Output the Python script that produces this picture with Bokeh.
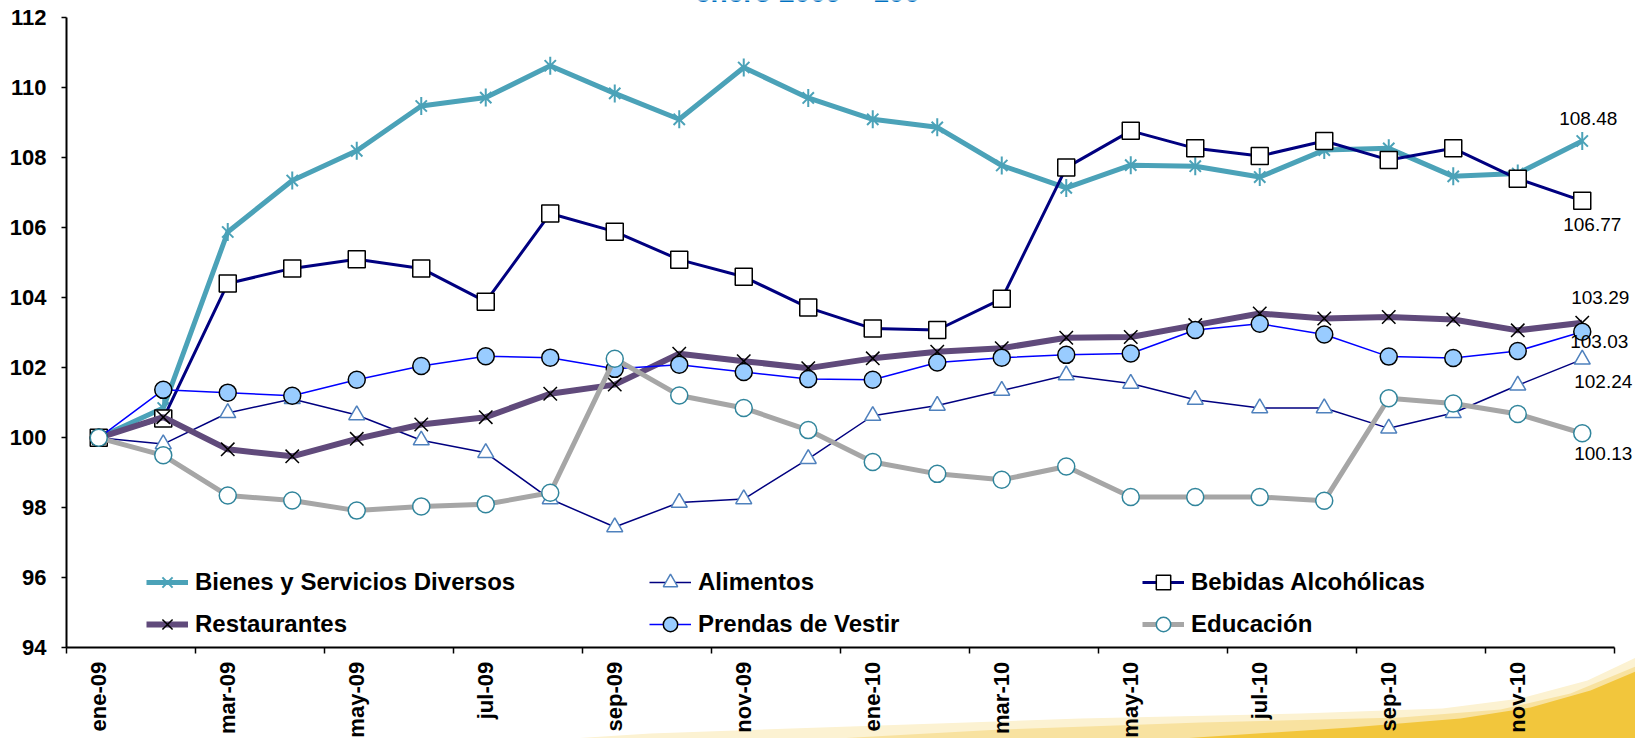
import math
from bokeh.plotting import figure
from bokeh.models import Range1d, FixedTicker, Legend, LegendItem, Label
from bokeh.embed import file_html
from bokeh.resources import INLINE

# ---------------- data ----------------
months = ["ene-09", "feb-09", "mar-09", "abr-09", "may-09", "jun-09", "jul-09", "ago-09",
          "sep-09", "oct-09", "nov-09", "dic-09", "ene-10", "feb-10", "mar-10", "abr-10",
          "may-10", "jun-10", "jul-10", "ago-10", "sep-10", "oct-10", "nov-10", "dic-10"]

bienes = [100.00, 100.85, 105.88, 107.35, 108.20, 109.48, 109.72, 110.63, 109.84, 109.10,
          110.58, 109.71, 109.10, 108.87, 107.78, 107.14, 107.79, 107.76, 107.45, 108.22,
          108.27, 107.47, 107.55, 108.48]
alimentos = [100.00, 99.82, 100.71, 101.11, 100.65, 99.93, 99.57, 98.25, 97.45, 98.15,
             98.25, 99.40, 100.63, 100.92, 101.35, 101.79, 101.55, 101.09, 100.85, 100.85,
             100.27, 100.71, 101.50, 102.24]
bebidas = [100.00, 100.55, 104.41, 104.84, 105.10, 104.84, 103.89, 106.41, 105.89, 105.09,
           104.60, 103.72, 103.12, 103.08, 103.97, 107.72, 108.77, 108.27, 108.05, 108.48,
           107.94, 108.27, 107.40, 106.77]
restaurantes = [100.00, 100.59, 99.67, 99.47, 99.97, 100.38, 100.59, 101.26, 101.52, 102.40,
                102.19, 101.99, 102.27, 102.46, 102.56, 102.86, 102.88, 103.22, 103.55, 103.41,
                103.45, 103.38, 103.07, 103.29]
prendas = [100.00, 101.37, 101.29, 101.20, 101.66, 102.05, 102.33, 102.29, 101.97, 102.09,
           101.88, 101.68, 101.66, 102.15, 102.29, 102.37, 102.41, 103.08, 103.26, 102.95,
           102.32, 102.28, 102.48, 103.03]
educacion = [100.00, 99.50, 98.35, 98.21, 97.92, 98.04, 98.10, 98.43, 102.26, 101.21,
             100.85, 100.22, 99.31, 98.97, 98.80, 99.18, 98.31, 98.31, 98.31, 98.20,
             101.13, 100.98, 100.68, 100.13]

y_ticks = [94, 96, 98, 100, 102, 104, 106, 108, 110, 112]
title_text = "enero 2009 = 100"

# ---------------- layout / styles ----------------
W, H = 1635, 738
PX_LEFT, PX_RIGHT, PX_TOP, PX_BOTTOM = 66, 1614, 17.3, 647.3
FONT = "Liberation Sans"
TEAL = "#4BA2B8"
NAVY = "#000080"
PURPLE = "#604A7B"
BLUE = "#0000FF"
GRAY = "#A6A6A6"

n = len(months)
xs = list(range(n))
y0, y1 = y_ticks[0], y_ticks[-1]
month_px = (PX_RIGHT - PX_LEFT) / n
unit_px = (PX_BOTTOM - PX_TOP) / (y1 - y0)
x_start = -0.5 - PX_LEFT / month_px
x_end = n - 0.5 + (W - PX_RIGHT) / month_px
y_start = y0 - (H - PX_BOTTOM) / unit_px
y_end = y1 + PX_TOP / unit_px

p = figure(width=W, height=H, output_backend="svg", toolbar_location=None,
           x_range=Range1d(x_start, x_end), y_range=Range1d(y_start, y_end),
           min_border=0, min_border_left=0, min_border_right=0,
           min_border_top=0, min_border_bottom=0)
p.grid.visible = False
p.outline_line_color = None
p.background_fill_color = "white"
p.border_fill_color = "white"


def cx(px):
    return x_start + px / month_px


def cy(py):
    return y_end - py / unit_px


# decorative yellow swoosh at the bottom right (pixel outline of the background art)
swoosh = [
    ("#FCF2D2", [540, 650, 850, 1080, 1300, 1442, 1520, 1587, 1640, 1640],
                [740, 733, 726, 718, 713, 708, 698, 680, 655, 740]),
    ("#F8E2A0", [800, 1000, 1200, 1400, 1500, 1570, 1640, 1640],
                [740, 729, 722, 717, 709, 693, 664, 740]),
    ("#F2C63C", [1150, 1350, 1460, 1530, 1590, 1640, 1640],
                [740, 727, 718, 707, 690, 669, 740]),
]
for col, sx, sy in swoosh:
    p.patch([cx(v) for v in sx], [cy(v) for v in sy], fill_color=col,
            line_color=None, level="underlay")

# (name, values, line style, list of marker styles, label offset)
series = [
    ("Bienes y Servicios Diversos", bienes,
     dict(line_color=TEAL, line_width=5),
     [dict(marker="x", size=16, line_color=TEAL, line_width=2),
      dict(marker="dash", size=18, angle=math.pi / 2, line_color=TEAL, line_width=2)], (6, 23)),
    ("Alimentos", alimentos,
     dict(line_color=NAVY, line_width=1.5),
     [dict(marker="triangle", size=16, fill_color="white", line_color="#4F81BD", line_width=1.5)], (21, -22)),
    ("Bebidas Alcohólicas", bebidas,
     dict(line_color=NAVY, line_width=3),
     [dict(marker="square", size=17, fill_color="white", line_color="black", line_width=1.5)], (10, -24)),
    ("Restaurantes", restaurantes,
     dict(line_color=PURPLE, line_width=6),
     [dict(marker="x", size=19, line_color="black", line_width=1.5)], (18, 25)),
    ("Prendas de Vestir", prendas,
     dict(line_color=BLUE, line_width=1.5),
     [dict(marker="circle", size=17, fill_color="#99CCFF", line_color="black", line_width=1.5)], (17, -10)),
    ("Educación", educacion,
     dict(line_color=GRAY, line_width=5),
     [dict(marker="circle", size=17, fill_color="white", line_color="#31859C", line_width=1.5)], (21, -20)),
]

items = {}
for name, vals, lstyle, mstyles, off in series:
    rs = [p.line(xs, vals, **lstyle)]
    for ms in mstyles:
        rs.append(p.scatter(xs, vals, **ms))
    items[name] = LegendItem(label=name, renderers=rs)
    p.add_layout(Label(x=xs[-1], y=vals[-1], text=f"{vals[-1]:.2f}",
                       x_offset=off[0], y_offset=off[1],
                       text_align="center", text_baseline="middle",
                       text_font=FONT, text_font_size="19px", text_color="black"))

columns = [
    (["Bienes y Servicios Diversos", "Restaurantes"], 146),
    (["Alimentos", "Prendas de Vestir"], 649),
    (["Bebidas Alcohólicas", "Educación"], 1142),
]
for names, lx in columns:
    lg = Legend(items=[items[k] for k in names], location=(lx, 96),
                orientation="vertical", border_line_color=None,
                background_fill_alpha=0, padding=0, margin=0, spacing=6,
                glyph_width=42, glyph_height=36, label_height=36, label_standoff=7,
                label_text_font=FONT, label_text_font_size="24px",
                label_text_font_style="bold", label_text_color="black")
    p.add_layout(lg, "center")

# axes (drawn at fixed data locations inside the full-canvas frame)
p.yaxis.fixed_location = -0.5
p.yaxis.bounds = (y0, y1)
p.yaxis.ticker = FixedTicker(ticks=y_ticks)
p.yaxis.major_tick_out = 5
p.yaxis.major_tick_in = 0
p.yaxis.minor_tick_line_color = None
p.yaxis.major_label_standoff = 15
p.yaxis.axis_line_width = 2
p.yaxis.major_tick_line_width = 1.5
p.yaxis.axis_line_color = "black"
p.yaxis.major_label_text_font = FONT
p.yaxis.major_label_text_font_size = "22px"
p.yaxis.major_label_text_font_style = "bold"
p.yaxis.major_label_text_color = "black"

p.xaxis.fixed_location = y0
p.xaxis.bounds = (-0.5, n - 0.5)
p.xaxis.ticker = FixedTicker(ticks=list(range(0, n, 2)),
                             minor_ticks=[i - 0.5 for i in range(0, n + 1, 2)])
p.xaxis.major_label_overrides = {i: months[i] for i in range(0, n, 2)}
p.xaxis.major_tick_line_color = None
p.xaxis.major_tick_out = 0
p.xaxis.major_tick_in = 0
p.xaxis.minor_tick_out = 6
p.xaxis.minor_tick_in = 0
p.xaxis.minor_tick_line_color = "black"
p.xaxis.minor_tick_line_width = 1.5
p.xaxis.axis_line_width = 2
p.xaxis.axis_line_color = "black"
p.xaxis.major_label_orientation = math.pi / 2
p.xaxis.major_label_standoff = 8
p.xaxis.major_label_text_font = FONT
p.xaxis.major_label_text_font_size = "22px"
p.xaxis.major_label_text_font_style = "bold"
p.xaxis.major_label_text_color = "black"

# title, mostly above the top edge as in the reference
p.add_layout(Label(x=807, y=-8, x_units="canvas", y_units="canvas", text=title_text,
                   text_align="center", text_baseline="alphabetic",
                   text_font=FONT, text_font_size="28px", text_font_style="bold",
                   text_color="#0070C0"))

open("out.html", "w").write(file_html(p, INLINE))
